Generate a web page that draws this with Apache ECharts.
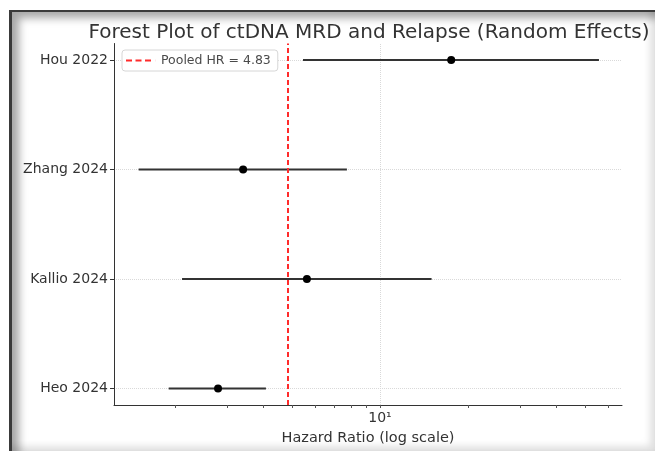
<!DOCTYPE html>
<html>
<head>
<meta charset="utf-8">
<script src="https://cdn.jsdelivr.net/npm/echarts@6/dist/echarts.min.js"></script>
<style>
  html, body { margin: 0; padding: 0; background: #fff; }
  #main { position: absolute; left: 0; top: 0; width: 655px; height: 451px; }
  /* screenshot frame */
  #frame {
    position: absolute; left: 9px; top: 10px; right: 0; bottom: 0;
    border-top: 2px solid #3a3a3a; border-left: 3px solid #3a3a3a;
    box-shadow: inset 7px 6px 9px rgba(0,0,0,0.35), inset -5px -5px 7px rgba(0,0,0,0.12);
    pointer-events: none;
  }
</style>
</head>
<body>
<div id="main"></div>
<div id="frame"></div>
<script>
// studies from bottom to top
var studies = ['Heo 2024', 'Kallio 2024', 'Zhang 2024', 'Hou 2022'];
var hr = [2.80, 5.63, 3.41, 17.5];
var ciLow = [1.90, 2.11, 1.50, 5.46];
var ciHigh = [4.08, 15.0, 7.71, 55.9];
var pooledHR = 4.83;
var xMajorTicks = [10];
var xMinorTicks = [2, 3, 4, 5, 6, 7, 8, 9, 20, 30, 40, 50, 60];
var font = 'DejaVu Sans';

var myChart = echarts.init(document.getElementById('main'));

var pointData = [];
var ciData = [];
studies.forEach(function (s, i) {
    pointData.push([hr[i], i]);
    ciData.push([ciLow[i], ciHigh[i], i]);
});

var legendName = 'Pooled HR = ' + pooledHR;

var option = {
    animation: false,
    textStyle: { fontFamily: font },
    title: {
        text: 'Forest Plot of ctDNA MRD and Relapse (Random Effects)',
        left: 364,
        textAlign: 'center',
        top: 18,
        textStyle: { fontFamily: font, fontSize: 20, fontWeight: 'normal', color: '#333' }
    },
    legend: {
        left: 122,
        top: 50,
        data: [{
            name: legendName,
            // dashed line icon (last tiny rect only widens the box)
            icon: 'path://M0,0h6v2h-6zM9.5,0h6v2h-6zM19,0h6v2h-6zM29.9,0h0.1v2h-0.1z'
        }],
        itemWidth: 30,
        itemHeight: 2,
        padding: [4, 7, 4, 4],
        backgroundColor: '#fff',
        borderColor: '#d6d6d6',
        borderWidth: 1,
        borderRadius: 3,
        textStyle: { fontFamily: font, fontSize: 12.5, color: '#4a4a4a' }
    },
    grid: { left: 114, right: 33, top: 43.5, bottom: 45.5 },
    xAxis: {
        type: 'log',
        logBase: 10,
        min: 1.236,
        max: 67,
        name: 'Hazard Ratio (log scale)',
        nameLocation: 'middle',
        nameGap: 26,
        nameTextStyle: { fontFamily: font, fontSize: 14.5, color: '#333' },
        axisLine: { onZero: false, lineStyle: { color: '#333', width: 1 } },
        axisTick: { customValues: xMajorTicks.concat(xMinorTicks), length: 3, lineStyle: { color: '#555' } },
        axisLabel: {
            customValues: xMajorTicks,
            fontFamily: font, fontSize: 14, color: '#333', margin: 6,
            formatter: function (v) { return '10\u00b9'; }
        },
        splitLine: { show: false }
    },
    yAxis: {
        type: 'value',
        min: -0.15,
        max: 3.15,
        axisLine: { show: true, onZero: false, lineStyle: { color: '#333', width: 1 } },
        axisTick: { show: true, customValues: [0, 1, 2, 3], length: 4, lineStyle: { color: '#333' } },
        axisLabel: {
            customValues: [0, 1, 2, 3],
            fontFamily: font, fontSize: 14, color: '#333', margin: 6,
            formatter: function (v) { return studies[Math.round(v)] || ''; }
        },
        splitLine: { show: false }
    },
    series: [
        {
            // grid lines
            type: 'line',
            data: [],
            silent: true,
            z: 0,
            markLine: {
                symbol: 'none',
                silent: true,
                z: 0,
                label: { show: false },
                lineStyle: { color: '#d9d9d9', type: 'dotted', width: 1 },
                data: studies.map(function (s, i) { return { yAxis: i }; })
                    .concat(xMajorTicks.map(function (v) { return { xAxis: v }; }))
            }
        },
        {
            type: 'custom',
            data: ciData,
            z: 3,
            renderItem: function (params, api) {
                var p1 = api.coord([api.value(0), api.value(2)]);
                var p2 = api.coord([api.value(1), api.value(2)]);
                return {
                    type: 'line',
                    shape: { x1: p1[0], y1: p1[1], x2: p2[0], y2: p2[1] },
                    style: { stroke: '#333', lineWidth: 2, lineDash: null }
                };
            }
        },
        {
            type: 'scatter',
            data: pointData,
            symbol: 'circle',
            symbolSize: 8,
            z: 4,
            itemStyle: { color: '#000', opacity: 1, borderWidth: 0 }
        },
        {
            name: legendName,
            type: 'line',
            data: [],
            symbol: 'none',
            z: 5,
            lineStyle: { color: '#ff2b2b', type: [5, 3], width: 2 },
            itemStyle: { color: '#ff2b2b' },
            markLine: {
                symbol: 'none',
                silent: true,
                label: { show: false },
                lineStyle: { color: '#ff2b2b', type: [5, 3], width: 2 },
                data: [{ xAxis: pooledHR }]
            }
        }
    ]
};

myChart.setOption(option);
</script>
</body>
</html>
